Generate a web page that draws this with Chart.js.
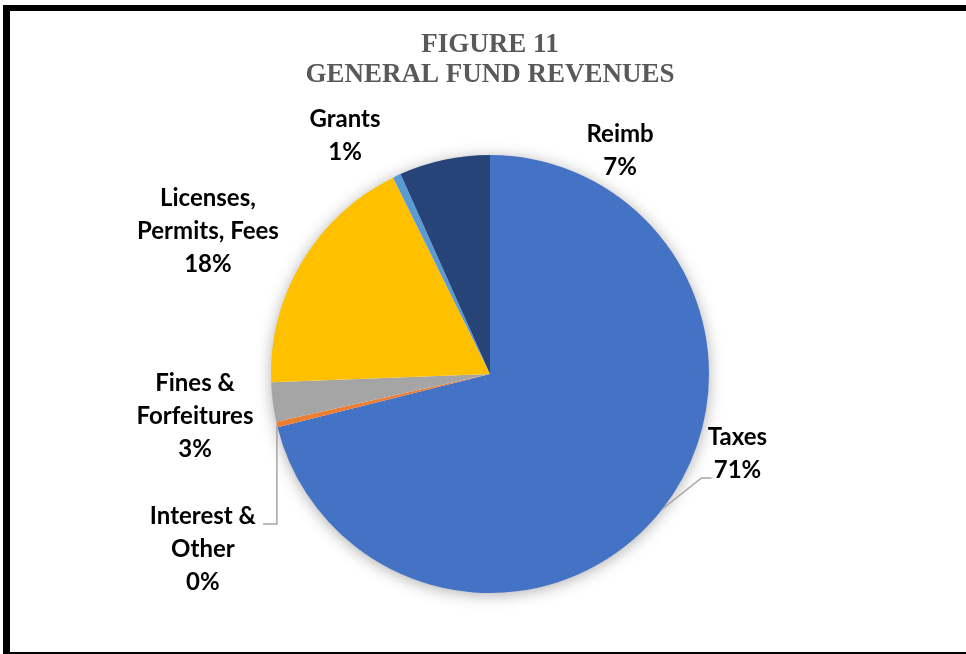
<!DOCTYPE html>
<html>
<head>
<meta charset="utf-8">
<script src="https://cdn.jsdelivr.net/npm/chart.js@4.4.1/dist/chart.umd.min.js"></script>
<style>
html, body { margin: 0; padding: 0; background: #fff; }
#wrap { position: relative; width: 966px; height: 654px; }
</style>
</head>
<body>
<div id="wrap"><canvas id="revenues"></canvas></div>
<script>
// General fund revenue shares (percent of total)
const categories = [['Taxes'], ['Interest &', 'Other'], ['Fines &', 'Forfeitures'], ['Licenses,', 'Permits, Fees'], ['Grants'], ['Reimb']];
const shares = [71.1, 0.4, 2.9, 18.3, 0.6, 6.7];
const sliceColors = ['#4472C4', '#ED7D31', '#A5A5A5', '#FFC000', '#5B9BD5', '#264478'];

// where each label block sits, in pie radii from the centre
const labelSpots = [[1.13, 0.365], [-1.311, 0.799], [-1.347, 0.192], [-1.288, -0.653], [-0.662, -1.087], [0.594, -1.018]];

const labelFont = 'bold 24px Lato';
const lineGap = 33;

// page frame
const framePlugin = {
  id: 'frame',
  beforeDraw(chart) {
    const ctx = chart.ctx;
    ctx.save();
    ctx.fillStyle = '#fff';
    ctx.fillRect(0, 0, chart.width, chart.height);
    ctx.fillStyle = '#000';
    ctx.fillRect(3, 5, chart.width - 3, 6);
    ctx.fillRect(3, 5, 7, chart.height - 5);
    ctx.fillRect(3, chart.height - 2, chart.width - 3, 2);
    ctx.restore();
  }
};

// soft shadow behind the whole pie
const shadowPlugin = {
  id: 'pieShadow',
  beforeDatasetsDraw(chart) {
    const arc = chart.getDatasetMeta(0).data[0];
    if (!arc) return;
    const ctx = chart.ctx;
    ctx.save();
    ctx.shadowColor = 'rgba(0,0,0,0.35)';
    ctx.shadowBlur = 16;
    ctx.shadowOffsetY = 2;
    ctx.fillStyle = '#fff';
    ctx.beginPath();
    ctx.arc(arc.x, arc.y, arc.outerRadius - 1, 0, Math.PI * 2);
    ctx.fill();
    ctx.restore();
  }
};

// category + percent labels, with leader lines for the two far ones
const labelPlugin = {
  id: 'sliceLabels',
  afterDatasetsDraw(chart) {
    const meta = chart.getDatasetMeta(0);
    const ctx = chart.ctx;
    const total = shares.reduce((a, b) => a + b, 0);
    ctx.save();
    ctx.font = labelFont;
    ctx.fillStyle = '#000';
    ctx.textAlign = 'center';
    ctx.textBaseline = 'middle';
    meta.data.forEach((arc, i) => {
      const r = arc.outerRadius;
      const cx = arc.x + labelSpots[i][0] * r;
      const cy = arc.y + labelSpots[i][1] * r;
      const lines = categories[i].concat([Math.round(shares[i] / total * 100) + '%']);
      const top = cy - (lines.length - 1) * lineGap / 2;
      lines.forEach((t, k) => ctx.fillText(t, cx, top + k * lineGap));

      const mid = (arc.startAngle + arc.endAngle) / 2;
      const ex = arc.x + Math.cos(mid) * r;
      const ey = arc.y + Math.sin(mid) * r;
      let pts = null;
      if (i === 0) {
        pts = [[ex, ey], [cx - 36, cy + 24], [cx - 26, cy + 24]];
      } else if (i === 1) {
        pts = [[ex, ey], [ex, cy - 25], [cx + 60, cy - 25]];
      }
      if (pts) {
        ctx.strokeStyle = '#A6A6A6';
        ctx.lineWidth = 1.5;
        ctx.beginPath();
        ctx.moveTo(pts[0][0], pts[0][1]);
        pts.slice(1).forEach(p => ctx.lineTo(p[0], p[1]));
        ctx.stroke();
      }
    });
    ctx.restore();
  }
};

new Chart(document.getElementById('revenues'), {
  type: 'pie',
  data: {
    labels: categories.map(c => c.join(' ')),
    datasets: [{
      data: shares,
      backgroundColor: sliceColors,
      borderWidth: 0,
      hoverOffset: 0
    }]
  },
  options: {
    responsive: true,
    maintainAspectRatio: false,
    animation: false,
    layout: { padding: { top: 14, bottom: 61, left: 200, right: 186 } },
    plugins: {
      legend: { display: false },
      tooltip: { enabled: false },
      title: {
        display: true,
        text: ['FIGURE 11', 'GENERAL FUND REVENUES'],
        color: '#595959',
        font: { family: 'Liberation Serif', size: 27, weight: 'bold', lineHeight: 30 / 27 },
        padding: { top: 16, bottom: 65 }
      }
    }
  },
  plugins: [framePlugin, shadowPlugin, labelPlugin]
});
</script>
</body>
</html>
